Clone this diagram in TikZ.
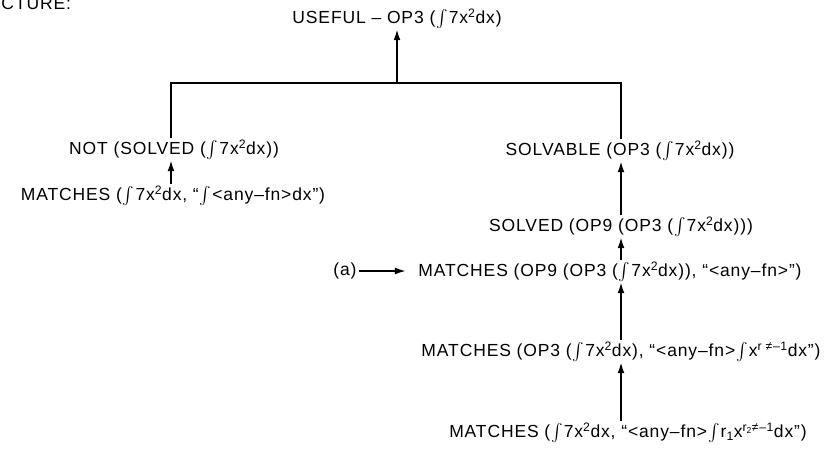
\documentclass[tikz,border=0pt]{standalone}
\usepackage{exscale}
\usepackage{fontspec}
\setmainfont{Liberation Sans}[LetterSpace=5]
\usepackage{tikz}
\usetikzlibrary{arrows.meta, positioning}
\newcommand{\integ}{\kern1pt\smash{$\int$}\kern1pt}
\newcommand{\sevx}{\integ 7x\textsuperscript{2}dx}

\begin{document}
\begin{tikzpicture}[
    x=1pt, y=-1pt,
    term/.style={inner xsep=2pt, inner ysep=1.5pt, outer sep=0.5pt, font=\fontsize{17.5}{19}\selectfont},
    arrow/.style={-{Latex[length=11pt, width=7pt]}, line width=1.8pt},
    bar/.style={line width=1.8pt}
]
    \useasboundingbox (0,0) rectangle (838,472);
    % cut-off caption
    \node[term, anchor=base west, inner sep=0pt] (caption) at (1,9) {CTURE:};

    % goal
    \node[term] (useful) at (397,18) {USEFUL – OP3 (\sevx)};

    % left branch
    \node[term] (notsolved) at (174,149) {NOT (SOLVED (\sevx))};
    \node[term] (matchleft) at (173,195) {MATCHES (\sevx, “\integ <any–fn>dx”)};

    % right branch
    \node[term] (solvable) at (620,150) {SOLVABLE (OP3 (\sevx))};
    \node[term] (solved) at (621,226) {SOLVED (OP9 (OP3 (\sevx)))};
    \node[term] (matchnine) at (610,271) {MATCHES (OP9 (OP3 (\sevx)), “<any–fn>”)};
    \node[term] (matchthree) at (621,351) {MATCHES (OP3 (\sevx), “<any–fn>\integ x\textsuperscript{r ≠–1}dx”)};
    \node[term] (matchr) at (628,432) {MATCHES (\sevx, “<any–fn>\integ r\textsubscript{1}x\textsuperscript{r\textsubscript{2}≠–1}dx”)};
    \node[term] (alabel) at (345,271) {(a)};

    % joining bar
    \coordinate (join) at (397,83);
    \coordinate (barleft) at (171,83);
    \coordinate (barright) at (621,83);
    \draw[bar] (notsolved.north -| barleft) -- (barleft) -- (barright) -- (solvable.north -| barright);
    \draw[arrow] (join) -- (useful);

    % arrows
    \draw[arrow] (matchleft.north -| barleft) -- (notsolved.south -| barleft);
    \draw[arrow] (solved.north -| barright) -- (solvable.south -| barright);
    \draw[arrow] (matchnine.north -| barright) -- (solved.south -| barright);
    \draw[arrow] (matchthree.north -| barright) -- (matchnine.south -| barright);
    \draw[arrow] (matchr.north -| barright) -- (matchthree.south -| barright);
    \draw[arrow, shorten >=10pt] (alabel) -- (matchnine);
\end{tikzpicture}
\end{document}
